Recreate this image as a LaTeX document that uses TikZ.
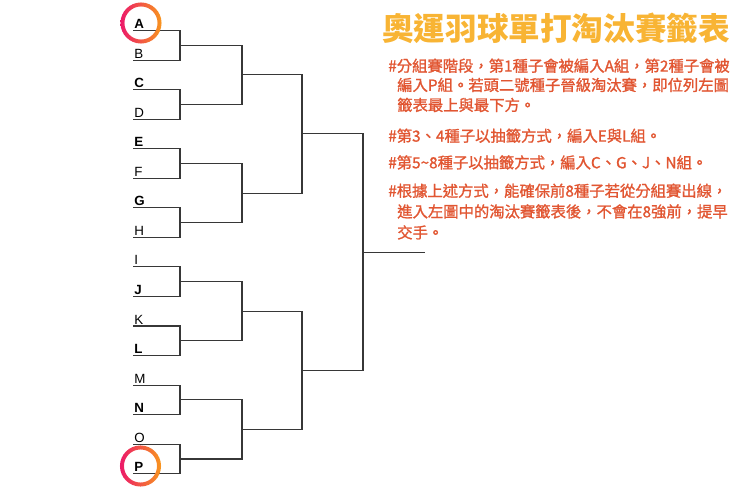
\documentclass[tikz,border=0pt]{standalone}
\usepackage{fontspec}
\setmainfont{Liberation Sans}
\newfontfamily\cjk{Noto Sans CJK TC}
\newfontfamily\cjknote[FakeBold=1.3]{Noto Sans CJK TC}
\usetikzlibrary{calc}
\definecolor{linegray}{RGB}{55, 55, 55}
\definecolor{titleyellow}{RGB}{248, 180, 52}
\definecolor{noteorange}{RGB}{225, 86, 50}
\definecolor{ringpink}{RGB}{236, 25, 105}
\definecolor{ringorange}{RGB}{248, 150, 30}

\begin{document}
\begin{tikzpicture}[x=0.75pt, y=-0.75pt,
  bracket/.style={draw=linegray, line width=0.8pt},
  team/.style={anchor=base west, inner sep=0pt, xshift=0.75pt, yshift=1.5pt, font=\fontsize{10pt}{11pt}\selectfont},
  seeded/.style={team, font=\fontsize{10pt}{11pt}\selectfont\bfseries},
  note/.style={anchor=base west, inner sep=0pt, text=noteorange, font=\cjknote\fontsize{11.5pt}{14pt}\selectfont},
  seedring/.style={left color=ringpink, right color=ringorange, even odd rule}]
  \useasboundingbox (0, 0) rectangle (740, 490);

  % Entry lines
  \coordinate (a) at (133, 30.5);
  \coordinate (b) at (133, 60.05);
  \coordinate (c) at (133, 89.6);
  \coordinate (d) at (133, 119.15);
  \coordinate (e) at (133, 148.7);
  \coordinate (f) at (133, 178.25);
  \coordinate (g) at (133, 207.8);
  \coordinate (h) at (133, 237.35);
  \coordinate (i) at (133, 266.9);
  \coordinate (j) at (133, 296.45);
  \coordinate (k) at (133, 326);
  \coordinate (l) at (133, 355.55);
  \coordinate (m) at (133, 385.1);
  \coordinate (n) at (133, 414.65);
  \coordinate (o) at (133, 444.2);
  \coordinate (p) at (133, 473.75);

  \node[seeded] (A) at (a) {A};
  \node[team] (B) at (b) {B};
  \node[seeded] (C) at (c) {C};
  \node[team] (D) at (d) {D};
  \node[seeded] (E) at (e) {E};
  \node[team] (F) at (f) {F};
  \node[seeded] (G) at (g) {G};
  \node[team] (H) at (h) {H};
  \node[team] (I) at (i) {I};
  \node[seeded] (J) at (j) {J};
  \node[team] (K) at (k) {K};
  \node[seeded] (L) at (l) {L};
  \node[team] (M) at (m) {M};
  \node[seeded] (N) at (n) {N};
  \node[team] (O) at (o) {O};
  \node[seeded] (P) at (p) {P};

  % Round joins
  \coordinate (r1) at (180, 45.3);
  \coordinate (r2) at (180, 104.4);
  \coordinate (r3) at (180, 163.5);
  \coordinate (r4) at (180, 222.6);
  \coordinate (r5) at (180, 281.7);
  \coordinate (r6) at (180, 340.8);
  \coordinate (r7) at (180, 399.9);
  \coordinate (r8) at (180, 459);
  \coordinate (qf1) at (242, 74.85);
  \coordinate (qf2) at (242, 193.05);
  \coordinate (qf3) at (242, 311.25);
  \coordinate (qf4) at (242, 429.45);
  \coordinate (sf1) at (302, 133.95);
  \coordinate (sf2) at (302, 370.35);
  \coordinate (final) at (363, 252.15);
  \coordinate (winner) at (425, 252.15);

  \draw[bracket] (a) -| (r1) |- (b);
  \draw[bracket] (c) -| (r2) |- (d);
  \draw[bracket] (e) -| (r3) |- (f);
  \draw[bracket] (g) -| (r4) |- (h);
  \draw[bracket] (i) -| (r5) |- (j);
  \draw[bracket] (k) -| (r6) |- (l);
  \draw[bracket] (m) -| (r7) |- (n);
  \draw[bracket] (o) -| (r8) |- (p);
  \draw[bracket] (r1) -| (qf1) |- (r2);
  \draw[bracket] (r3) -| (qf2) |- (r4);
  \draw[bracket] (r5) -| (qf3) |- (r6);
  \draw[bracket] (r7) -| (qf4) |- (r8);
  \draw[bracket] (qf1) -| (sf1) |- (qf2);
  \draw[bracket] (qf3) -| (sf2) |- (qf4);
  \draw[bracket] (sf1) -| (final) |- (sf2);
  \draw[bracket] (final) -- (winner);

  % Top seeds
  \shade[seedring] (141, 23) circle[radius=15.4pt] (141, 23) circle[radius=12.4pt];
  \shade[seedring] (140.5, 466) circle[radius=15.4pt] (140.5, 466) circle[radius=12.4pt];

  % Title
  \node[anchor=base west, inner sep=0pt, text=titleyellow, font=\cjk\bfseries\fontsize{23.7pt}{28pt}\selectfont] (title) at (382, 40.3) {奧運羽球單打淘汰賽籤表};

  % Notes
  \node[note] (rule1a) at (388, 71.6) {\#分組賽階段，第1種子會被編入A組，第2種子會被};
  \node[note] (rule1b) at (397, 90.8) {編入P組。若頭二號種子晉級淘汰賽，即位列左圖};
  \node[note] (rule1c) at (397, 110.8) {籤表最上與最下方。};
  \node[note] (rule2) at (388, 141.6) {\#第3、4種子以抽籤方式，編入E與L組。};
  \node[note] (rule3) at (388, 168.3) {\#第5\textasciitilde8種子以抽籤方式，編入C、G、J、N組。};
  \node[note] (rule4a) at (388, 196.6) {\#根據上述方式，能確保前8種子若從分組賽出線，};
  \node[note] (rule4b) at (397, 217.3) {進入左圖中的淘汰賽籤表後，不會在8強前，提早};
  \node[note] (rule4c) at (397, 238.3) {交手。};
\end{tikzpicture}
\end{document}
